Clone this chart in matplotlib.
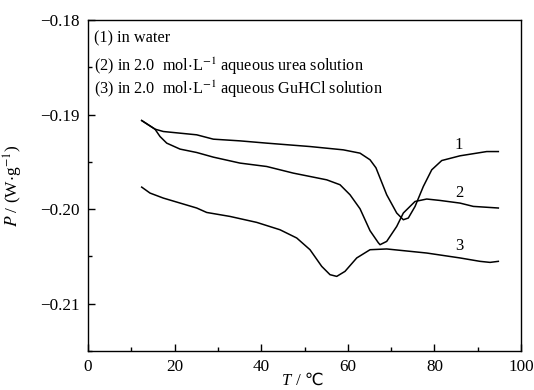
import matplotlib
matplotlib.use("Agg")
import matplotlib.pyplot as plt
from matplotlib.ticker import MultipleLocator

plt.rcParams['font.family'] = ['Liberation Serif', 'DejaVu Sans']
plt.rcParams['mathtext.fontset'] = 'stix'

# Curve 1: in water
T1 = [12.40, 15.47, 17.39, 25.10, 28.94, 35.10, 41.27, 51.27, 58.96, 62.82,
      65.13, 66.5, 68.98, 71.29, 72.82, 73.97, 75.52, 77.44, 79.38, 81.69,
      85.91, 92.08, 94.76]
P1 = [-0.19063, -0.19154, -0.19179, -0.19214, -0.19260, -0.19278, -0.19302,
      -0.19338, -0.19373, -0.19408, -0.19478, -0.19563, -0.19848, -0.20041,
      -0.20112, -0.20094, -0.19972, -0.19760, -0.19584, -0.19486, -0.19436,
      -0.19391, -0.19391]

# Curve 2: in 2.0 mol/L urea
T2 = [12.40, 15.47, 16.63, 18.18, 21.25, 25.10, 28.94, 35.10, 41.27, 47.41,
      55.13, 58.20, 60.51, 62.82, 65.13, 67.04, 67.44, 68.98, 71.29, 72.82,
      75.52, 78.22, 81.29, 85.91, 88.98, 94.76]
P2 = [-0.19063, -0.19154, -0.19232, -0.19302, -0.19365, -0.19401, -0.19450,
      -0.19513, -0.19549, -0.19619, -0.19690, -0.19742, -0.19848, -0.19996,
      -0.20228, -0.20355, -0.20376, -0.20341, -0.20183, -0.20041, -0.19919,
      -0.19893, -0.19908, -0.19936, -0.19971, -0.19988]

# Curve 3: in 2.0 mol/L GuHCl
T3 = [12.40, 14.32, 17.39, 25.10, 27.41, 32.79, 38.96, 44.34, 48.20, 51.27,
      53.97, 55.89, 57.44, 59.35, 62.06, 65.13, 68.98, 78.22, 85.91, 90.53,
      92.84, 94.76]
P3 = [-0.19767, -0.19830, -0.19883, -0.19988, -0.20035, -0.20077, -0.20140,
      -0.20218, -0.20305, -0.20429, -0.20605, -0.20693, -0.20711, -0.20658,
      -0.20516, -0.20429, -0.20421, -0.20464, -0.20516, -0.20552, -0.20563,
      -0.20552]

curve_labels = ["1", "2", "3"]
label_T = [85.5, 85.7, 85.7]
label_P = [-0.1932, -0.1983, -0.2039]

legend_lines = ["(1) in water",
                r"(2) in 2.0  mol$\cdot$L$^{-1}$ aqueous urea solution",
                r"(3) in 2.0  mol$\cdot$L$^{-1}$ aqueous GuHCl solution"]

fig = plt.figure(figsize=(5.34, 3.90), dpi=100)
ax = fig.add_axes([0.1648, 0.100, 0.8109, 0.8487])

for T, P in [(T1, P1), (T2, P2), (T3, P3)]:
    ax.plot(T, P, color='black', lw=1.1, solid_joinstyle='round')

for lab, t, p in zip(curve_labels, label_T, label_P):
    ax.text(t, p, lab, fontsize=12, ha='center', va='center')

ys = [0.943, 0.861, 0.792]
for s, yv in zip(legend_lines, ys):
    ax.text(0.014, yv, s, transform=ax.transAxes, fontsize=11.7, ha='left', va='center')

ax.set_xlim(0, 100)
ax.set_ylim(-0.215, -0.18)
ax.xaxis.set_major_locator(MultipleLocator(20))
ax.xaxis.set_minor_locator(MultipleLocator(10))
ax.yaxis.set_minor_locator(MultipleLocator(0.005))
ax.set_yticks([-0.21, -0.20, -0.19, -0.18])
ax.set_yticklabels(['\u22120.21', '\u22120.20', '\u22120.19', '\u22120.18'])
ax.tick_params(which='both', direction='in', top=False, right=False, labelsize=12.3, width=1.0)
ax.tick_params(which='major', length=5, pad=6)
ax.tick_params(which='minor', length=3)
for sp in ax.spines.values():
    sp.set_linewidth(1.0)

# x label: italic T followed by " / ℃"
xl_y = 1 - 381 / 390
fig.text(0.545, xl_y, "T", fontsize=12, style='italic', ha='right', va='center')
fig.text(0.547, xl_y, " / \u2103", fontsize=12, ha='left', va='center',
         family=['Liberation Serif', 'DejaVu Sans'])
ax.set_ylabel('$P$ / (W$\\cdot$g$^{-1}$)', fontsize=12.5, labelpad=11)

fig.savefig('out.png', dpi=100)
